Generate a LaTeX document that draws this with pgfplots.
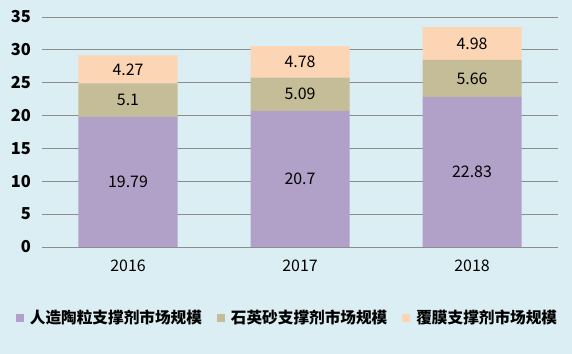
\documentclass[border=0pt]{standalone}
\usepackage{pgfplots}
\pgfplotsset{compat=1.18}
\usepackage{fontspec}
\setmainfont{Noto Sans CJK SC}
\definecolor{bgc}{HTML}{DAEEF3}
\definecolor{cpur}{HTML}{B1A0C7}
\definecolor{ckha}{HTML}{C4BD97}
\definecolor{cpea}{HTML}{FCD5B4}
\definecolor{gridc}{HTML}{8C8C8C}
\begin{document}
\begin{tikzpicture}
\useasboundingbox (0,0) rectangle (572bp,354bp);
\fill[bgc] (0,0) rectangle (572bp,354bp);
\begin{axis}[
  at={(42bp,107bp)}, anchor=south west,
  scale only axis, width=516bp, height=230bp,
  ybar stacked, bar width=99bp,
  xmin=-0.5, xmax=2.5, ymin=0, ymax=35,
  xtick={0,1,2}, xticklabels={2016,2017,2018},
  ytick={0,5,...,35},
  ymajorgrids, grid style={gridc, line width=0.8bp},
  axis line style={draw=none},
  major tick length=0pt,
  /pgf/number format/assume math mode=true,
  yticklabel style={font=\bfseries\fontsize{16.5}{18}\selectfont, anchor=east, inner sep=0pt, xshift=-11bp},
  xticklabel style={font=\fontsize{16}{18}\selectfont, anchor=north, inner sep=0pt, yshift=-13bp},
  legend style={draw=none, fill=none, legend columns=3, at={(0.4758,-0.307)}, anchor=center,
    font=\bfseries\fontsize{15.7}{18}\selectfont, inner sep=0pt,
    /tikz/every even column/.append style={column sep=13bp}},
  legend image code/.code={\fill[#1] (0bp,-4bp) rectangle (8bp,4bp); \path (12bp,0bp);},
]
\addplot[fill=cpur, draw=none] coordinates {(0,19.79) (1,20.7) (2,22.83)};
\addplot[fill=ckha, draw=none] coordinates {(0,5.1) (1,5.09) (2,5.66)};
\addplot[fill=cpea, draw=none] coordinates {(0,4.27) (1,4.78) (2,4.98)};
\legend{人造陶粒支撑剂市场规模,石英砂支撑剂市场规模,覆膜支撑剂市场规模}
\end{axis}
\begin{axis}[
  at={(42bp,107bp)}, anchor=south west,
  scale only axis, width=516bp, height=230bp,
  xmin=-0.5, xmax=2.5, ymin=0, ymax=35,
  hide axis,
  nodes near coords, point meta=explicit symbolic,
  nodes near coords align={center},
  every node near coord/.append style={font=\fontsize{16}{18}\selectfont, text=black, anchor=center},
]
\addplot[draw=none, mark=none] table[meta=l] {
x y l
0 9.895 19.79
1 10.35 20.7
2 11.415 22.83
0 22.34 5.1
1 23.245 5.09
2 25.66 5.66
0 27.025 4.27
1 28.18 4.78
2 30.98 4.98
};
\end{axis}
\end{tikzpicture}
\end{document}
